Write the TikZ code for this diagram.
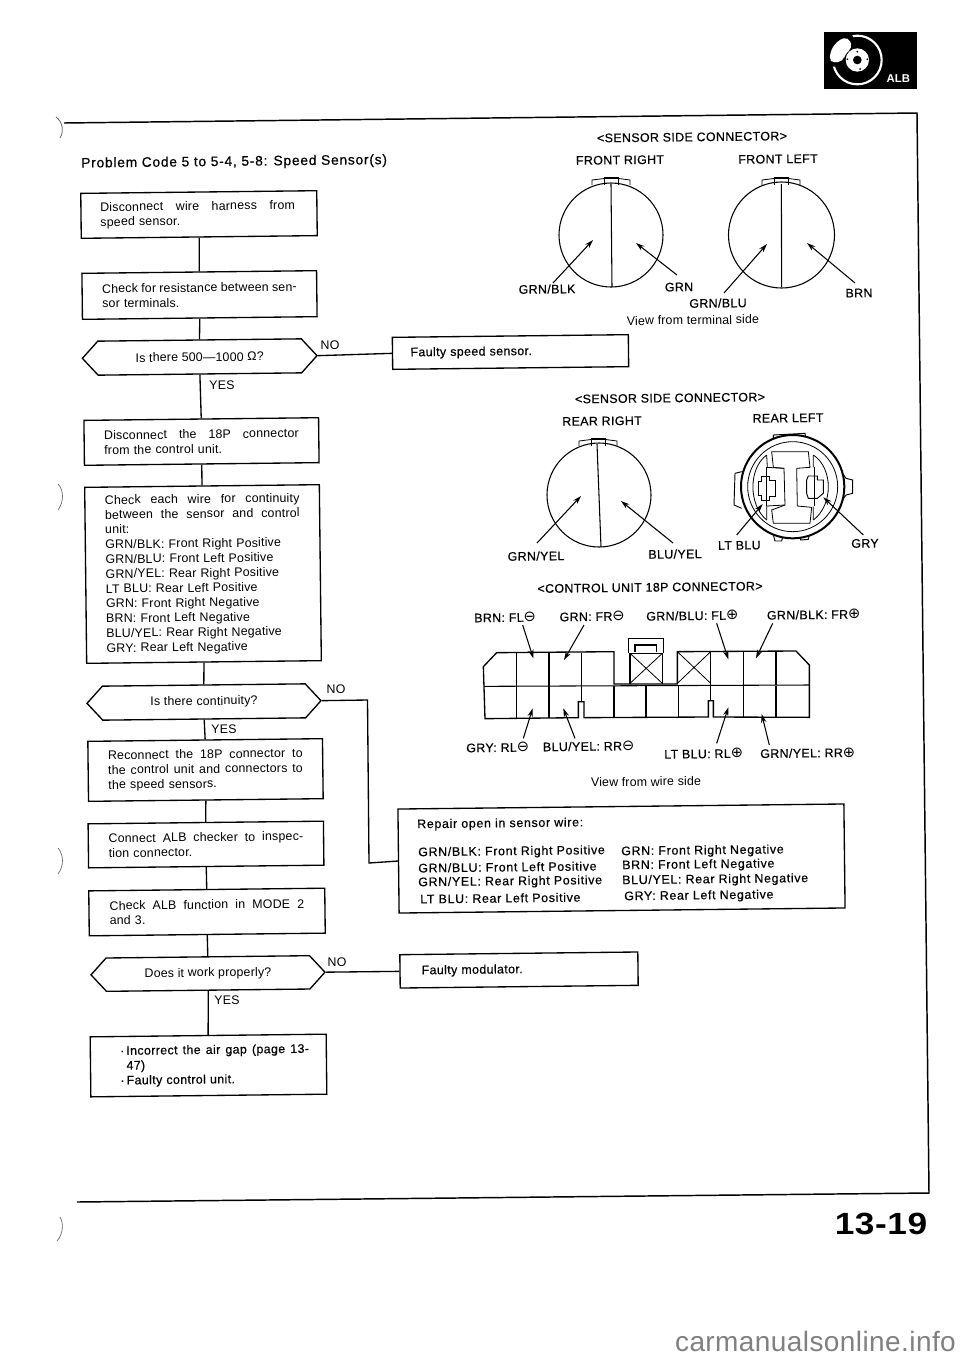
\documentclass[tikz,border=0pt]{standalone}
\usepackage{fontspec}
\usetikzlibrary{arrows.meta,shapes.symbols}
\setmainfont[LetterSpace=1.5]{Liberation Sans}
\newfontfamily\hv[FakeBold=0.5,LetterSpace=3]{Liberation Sans}
\newfontfamily\hvw[FakeBold=0.5,LetterSpace=5.5]{Liberation Sans}
\newfontfamily\sym{DejaVu Sans}
\newcommand\W[2]{\makebox[#1pt][s]{\spaceskip=0pt\xspaceskip=0pt #2}}
\newcommand\mns{{\sym\fontsize{11}{11}\selectfont ⊖}}
\newcommand\pls{{\sym\fontsize{11}{11}\selectfont ⊕}}
\newcommand\ptr[3]{\coordinate (#1s) at (#2); \coordinate (#1e) at (#3); \draw[wirearrow] (#1s) -- (#1e);}
\newcommand\ctab[3]{\draw[thin line] (#2-19,#3+8) -- (#2-19,#3+3) -- (#2-7,#3+1.5) -- (#2+7.5,#3+1.5) -- (#2+19,#3+3) -- (#2+19,#3+8);
  \draw[thin line] (#2-7,#3+8) -- (#2-7,#3) -- (#2+7.5,#3) -- (#2+7.5,#3+8);}
\tikzset{
  base/.style={rotate=.65,font=\fontsize{9.3}{11.1}\selectfont,inner sep=0pt},
  flow/.style={base,draw,line width=1pt,align=left,anchor=center},
  hexa/.style={base,draw,line width=1pt,shape=signal,signal to=west and east,signal pointer angle=95,anchor=center,align=center},
  lbl/.style={base,font=\fontsize{9.3}{11.1}\selectfont\hv,anchor=center},
  lblw/.style={lbl,anchor=west},
  wide/.style={base,font=\fontsize{9.3}{11.1}\selectfont\hvw,anchor=west},
  fl/.style={line width=1pt},
  dia/.style={line width=.8pt},
  thin line/.style={line width=.6pt},
  wirearrow/.style={line width=.8pt,-{Stealth[length=6.5pt,width=4pt]}},
}
\begin{document}
\begin{tikzpicture}[x=0.75pt,y=-0.75pt]
\useasboundingbox (0,0) rectangle (960,1357);
% frame
\coordinate (f1) at (64,123); \coordinate (f2) at (917,113); \coordinate (f3) at (929,1193); \coordinate (f4) at (77,1202);
\draw[line width=1.1pt] (f1) -- (f2) -- (f3) -- (f4);
% scan marks
\draw[black!60,line width=.6pt] (56,117) .. controls (63,122) and (64,132) .. (60,138);
\draw[black!60,line width=.5pt] (58,484) .. controls (64,490) and (64,502) .. (58,510);
\draw[black!60,line width=.5pt] (58,848) .. controls (64,855) and (64,866) .. (58,874);
\draw[black!60,line width=.5pt] (60,1217) .. controls (64,1224) and (63,1234) .. (57,1241);
% icon
\begin{scope}[shift={(780,0)},x=0.25pt,y=-0.25pt]
\fill[black] (133,95) rectangle (410,267);
\draw[white,line width=1.6pt] (232,180) circle[radius=73];
\fill[black] (135,100) -- (215,100) -- (232,150) -- (190,200) -- (135,200) -- cycle;
\fill[white,rounded corners=4pt] (148,188) -- (152,150) -- (175,120) -- (205,110) -- (218,145) -- (195,160) -- (190,185) -- cycle;
\fill[white] (232,180) circle[radius=35];
\fill[black] (232,180) circle[radius=13];
\foreach \a/\b in {232/155,262/178,240/207,206/207,202/178}{\fill[black] (\a,\b) circle[radius=3];}
\node[font=\fontsize{8.5}{10}\selectfont\bfseries,text=white,inner sep=0pt] (alb) at (355,235) {ALB};
\end{scope}
% title
\node[base,font=\fontsize{10.35}{12}\selectfont\hvw,anchor=west] (title) at (81,164) {Problem Code 5 to 5-4, 5-8: Speed Sensor(s)};
% flow
\node[flow,minimum width=177pt,minimum height=33.7pt,text width=148pt] (b1) at (199,214.5) {\W{146}{Disconnect wire harness from}\\speed sensor.};
\node[flow,minimum width=176pt,minimum height=34.5pt,text width=146pt] (b2) at (199.5,295) {\W{146}{Check for resistance between sen-}\\sor terminals.};
\node[hexa,minimum width=176pt,minimum height=25.5pt] (h3) at (199.7,357) {Is there 500—1000 Ω?};
\node[flow,font=\fontsize{9.3}{11.1}\selectfont\hv,minimum width=177pt,minimum height=24pt,text width=150pt] (f5) at (510.5,352) {Faulty speed sensor.};
\node[flow,minimum width=176pt,minimum height=33.7pt,text width=146pt] (b4) at (201.5,441.5) {\W{146}{Disconnect the 18P connector}\\from the control unit.};
\node[flow,minimum width=176pt,minimum height=132pt,text width=146pt] (b5) at (203,574) {\W{146}{Check each wire for continuity}\\\W{146}{between the sensor and control}\\unit:\\GRN/BLK: Front Right Positive\\GRN/BLU: Front Left Positive\\GRN/YEL: Rear Right Positive\\LT BLU: Rear Left Positive\\GRN: Front Right Negative\\BRN: Front Left Negative\\BLU/YEL: Rear Right Negative\\GRY: Rear Left Negative};
\node[hexa,minimum width=175.5pt,minimum height=25.5pt] (h6) at (204,702) {Is there continuity?};
\node[flow,minimum width=176pt,minimum height=45pt,text width=146pt] (b7) at (205.5,770) {\W{146}{Reconnect the 18P connector to}\\\W{146}{the control unit and connectors to}\\the speed sensors.};
\node[flow,minimum width=176.5pt,minimum height=33pt,text width=146pt] (b8) at (206,844.5) {\W{146}{Connect ALB checker to inspec-}\\tion connector.};
\node[flow,minimum width=177pt,minimum height=33.7pt,text width=146pt] (b9) at (207,912) {\W{146}{Check ALB function in MODE 2}\\and 3.};
\node[hexa,minimum width=175.5pt,minimum height=25pt] (h10) at (208,973.5) {Does it work properly?};
\node[flow,font=\fontsize{9.3}{11.1}\selectfont\hv,minimum width=177pt,minimum height=45pt,text width=123pt] (b11) at (208.5,1065.5) {\leavevmode\llap{·\,}\W{137}{Incorrect the air gap (page 13-}\\47)\\\leavevmode\llap{·\,}Faulty control unit.};
\node[flow,minimum width=334.5pt,minimum height=78pt] (rep) at (621.5,858.5) {};
\node[flow,font=\fontsize{9.3}{11.1}\selectfont\hv,minimum width=178.5pt,minimum height=25pt,text width=146pt] (f2b) at (519,970) {Faulty modulator.};
% flow connectors
\draw[fl] (b1.south) -- (b2.north);
\draw[fl] (b2.south) -- (h3.north);
\draw[fl] (h3.south) -- (b4.north);
\draw[fl] (b4.south) -- (b5.north);
\draw[fl] (b5.south) -- (h6.north);
\draw[fl] (h6.south) -- (b7.north);
\draw[fl] (b7.south) -- (b8.north);
\draw[fl] (b8.south) -- (b9.north);
\draw[fl] (b9.south) -- (h10.north);
\draw[fl] (h10.south) -- (b11.north);
\draw[fl] (h3.east) -- (f5.west);
\draw[fl] (h10.east) -- (f2b.west);
\coordinate (c1) at (367.5,700); \coordinate (c2) at (369,863);
\draw[fl] (h6.east) -- (c1) -- (c2) -- (rep.west);
% yes/no
\node[base] (y1) at (222,385) {YES}; \node[base] (n1) at (330,345) {NO};
\node[base] (y2) at (224,729) {YES}; \node[base] (n2) at (336,689) {NO};
\node[base] (y3) at (227,1000) {YES}; \node[base] (n3) at (337,962) {NO};
% repair text
\node[wide] (r0) at (417,825) {Repair open in sensor wire:};
\node[wide] (r1) at (418,853) {GRN/BLK: Front Right Positive};
\node[wide] (r2) at (418,868) {GRN/BLU: Front Left Positive};
\node[wide] (r3) at (418,883) {GRN/YEL: Rear Right Positive};
\node[wide] (r4) at (420,899) {LT BLU: Rear Left Positive};
\node[wide] (r5) at (621,852) {GRN: Front Right Negative};
\node[wide] (r6) at (622,866) {BRN: Front Left Negative};
\node[wide] (r7) at (622,881) {BLU/YEL: Rear Right Negative};
\node[wide] (r8) at (624,897) {GRY: Rear Left Negative};
% front connectors
\node[lbl] (t1) at (692,137) {<SENSOR SIDE CONNECTOR>};
\node[lbl] (t2) at (620,160) {FRONT RIGHT};
\node[lbl] (t3) at (778,159) {FRONT LEFT};
\draw[dia] (611,235) circle[radius=52];
\draw[dia] (781.5,235) circle[radius=53];
\ctab{a}{611}{177}
\ctab{b}{781}{177}
\draw[dia] (611,184) -- (612,287);
\draw[dia] (781.4,184) -- (781.6,287);
\ptr{a}{553,283}{593,240}
\ptr{b}{677,275}{636,243}
\ptr{c}{724,293}{767,244}
\ptr{d}{855,283}{807,243}
\node[lbl] (w1) at (547,289) {GRN/BLK};
\node[lbl] (w2) at (679,287) {GRN};
\node[lbl] (w3) at (718,303) {GRN/BLU};
\node[lbl] (w4) at (859,293) {BRN};
\node[base] (v1) at (693,320) {View from terminal side};
% rear connectors
\node[lbl] (t4) at (670,398) {<SENSOR SIDE CONNECTOR>};
\node[lbl] (t5) at (602,421) {REAR RIGHT};
\node[lbl] (t6) at (788,418) {REAR LEFT};
\draw[dia] (599,495) circle[radius=52];
\ctab{c}{598}{438}
\draw[dia] (597,444) -- (601,547);
\ptr{e}{537,543}{581,496}
\ptr{f}{673,543}{621,501}
\node[lbl] (w5) at (536,556) {GRN/YEL};
\node[lbl] (w6) at (675,554) {BLU/YEL};
% rear left, zoomed coordinates
\begin{scope}[shift={(480,380)},x=0.25pt,y=-0.25pt]
\draw[fill=white,line width=.7pt] (880,178) -- (880,165) -- (975,160) -- (978,178);
\draw[fill=white,line width=.7pt] (785,275) -- (765,280) -- (762,375) -- (785,385);
\draw[fill=white,line width=.7pt] (1075,262) -- (1098,295) -- (1118,300) -- (1118,340) -- (1098,345) -- (1080,370);
\draw[line width=.7pt] (880,465) -- (885,483) -- (905,483) -- (908,470) (960,472) -- (962,480) -- (985,478) -- (988,465);
\draw[line width=1.5pt,fill=white] (938,320) circle[radius=155];
\draw[line width=.6pt] (938,320) circle[radius=135];
\draw[line width=.6pt,fill=white] (875,215) -- (985,215) -- (990,262) -- (950,265) -- (952,378) -- (995,382) -- (990,430) -- (880,430) -- (875,390) -- (915,375) -- (912,265) -- (880,262) -- cycle;
\draw[line width=.6pt] (860,225) .. controls (805,265) and (805,375) .. (860,420);
\draw[line width=.6pt] (1000,225) .. controls (1060,265) and (1060,375) .. (1000,420);
\draw[line width=.6pt] (860,225) -- (862,262) (860,378) -- (860,420) (860,262) -- (912,265) (860,378) -- (915,375) (1000,225) -- (1000,262) (1000,380) -- (1000,420);
\draw[line width=.6pt] (860,262) -- (860,378);
\draw[line width=.6pt] (1003,262) -- (1003,378);
\draw[line width=.7pt] (845,288) -- (868,288) -- (868,300) -- (885,300) -- (885,350) -- (868,350) -- (868,362) -- (845,362) -- (845,345) -- (835,345) -- (835,305) -- (845,305) -- cycle;
\draw[line width=.7pt] (985,288) -- (1012,288) -- (1012,300) -- (1030,300) -- (1030,340) -- (1012,355) -- (985,355) -- (980,340) -- (980,300) -- cycle;
\ptr{g}{770,465}{848,372}
\ptr{h}{1150,465}{1030,352}
\node[lbl] (w7) at (778,496) {LT BLU};
\node[lbl] (w8) at (1155,490) {GRY};
\end{scope}
% control unit connector
\begin{scope}[shift={(460,570)},x=0.25pt,y=-0.25pt]
\node[lbl] (t7) at (570,52) {<CONTROL UNIT 18P CONNECTOR>};
\node[lblw] (k1) at (42,143) {BRN: FL\mns};
\node[lblw] (k2) at (298,140) {GRN: FR\mns};
\node[lblw] (k3) at (558,138) {GRN/BLU: FL\pls};
\node[lblw] (k4) at (920,135) {GRN/BLK: FR\pls};
\node[lblw] (k5) at (18,533) {GRY: RL\mns};
\node[lblw] (k6) at (248,530) {BLU/YEL: RR\mns};
\node[lblw] (k7) at (612,552) {LT BLU: RL\pls};
\node[lblw] (k8) at (900,550) {GRN/YEL: RR\pls};
\node[base] (v2) at (558,635) {View from wire side};
\draw[line width=1pt] (70,290) -- (110,248) -- (462,245) -- (462,342) -- (652,342) -- (652,245) -- (1008,243) -- (1048,285) -- (1048,442) -- (760,441) -- (760,392) -- (745,392) -- (745,441) -- (372,443) -- (372,395) -- (355,395) -- (355,443) -- (75,446) -- cycle;
\draw[line width=.8pt] (72,349) -- (1048,345);
\foreach \a in {170,267,365}{\draw[line width=.8pt] (\a,248) -- (\a,347);}
\foreach \a in {752,850,948}{\draw[line width=.8pt] (\a,244) -- (\a,345);}
\foreach \a in {170,267,462,558,655,850,948}{\draw[line width=.8pt] (\a,347) -- (\a,443);}
\draw[line width=.8pt] (365,347) -- (365,395) (752,345) -- (752,392);
\draw[line width=.8pt] (510,342) -- (510,250) -- (607,250) -- (607,342);
\draw[line width=.6pt] (510,250) -- (607,340) (607,250) -- (510,340);
\draw[line width=.6pt] (652,245) -- (752,340) (752,245) -- (652,340);
\draw[line width=.8pt] (505,250) -- (505,205) -- (610,205) -- (610,250);
\draw[line width=.8pt] (525,245) -- (525,225) -- (590,225) -- (590,245);
\ptr{k}{188,165}{220,265}
\ptr{l}{372,165}{312,270}
\ptr{m}{770,160}{805,268}
\ptr{n}{938,160}{888,265}
\ptr{o}{190,505}{218,415}
\ptr{p}{345,505}{310,415}
\ptr{q}{770,520}{805,412}
\ptr{r}{928,525}{905,432}
\end{scope}
% page number and site
\node[font=\fontsize{23}{25}\selectfont\bfseries,inner sep=0pt,xscale=1.15] (pg) at (881,1224) {13-19};
\node[font=\fontsize{21}{23}\selectfont,text=black!50,inner sep=0pt] (site) at (815.5,1341) {carmanualsonline.info};
\end{tikzpicture}
\end{document}
